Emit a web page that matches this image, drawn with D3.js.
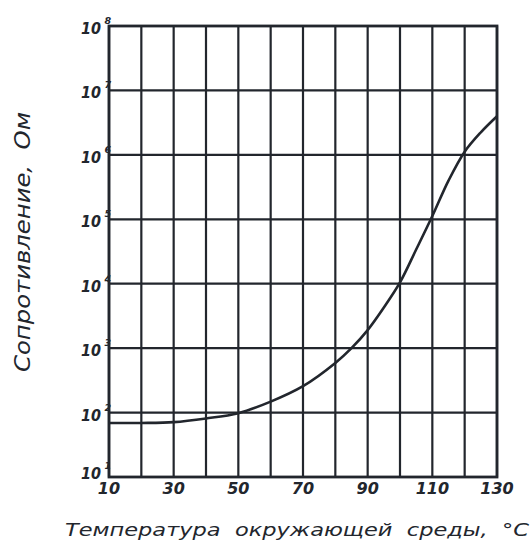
<!DOCTYPE html>
<html><head><meta charset="utf-8">
<script src="https://cdn.jsdelivr.net/npm/d3@7"></script>
<style>
html,body{margin:0;padding:0;background:#fff;}
svg{display:block;}
</style></head>
<body>
<svg id="c" width="531" height="547"></svg>
<script>
// Data
const temperatures = [10,20,30,40,50,60,70,80,85,90,95,100,105,110,115,120,125,130];
const resistance   = [69,69,71,81,98,148,257,589,1000,1905,4266,10470,33900,112200,398000,1120000,2240000,3980000];
const yDecades = [1,2,3,4,5,6,7,8];
const xGrid = d3.range(10, 131, 10);
const xTickLabels = [10,30,50,70,90,110,130];
const xTitle = "Температура  окружающей  среды,  °С";
const yTitle = "Сопротивление,  Ом";

const col = "#22262d";
const svg = d3.select("#c");
const L = 109, R = 497, T = 26, B = 477;
const x = d3.scaleLinear().domain([10,130]).range([L,R]);
const y = d3.scaleLog().domain([10,1e8]).range([B,T]);

// grid
const g = svg.append("g");
g.selectAll("line.v").data(xGrid).join("line")
  .attr("x1", d=>x(d)).attr("x2", d=>x(d)).attr("y1", T).attr("y2", B)
  .attr("stroke", col).attr("stroke-width", 2.2);
g.selectAll("line.h").data(yDecades).join("line")
  .attr("y1", d=>y(Math.pow(10,d))).attr("y2", d=>y(Math.pow(10,d))).attr("x1", L).attr("x2", R)
  .attr("stroke", col).attr("stroke-width", 2.2);
g.append("rect").attr("x", L).attr("y", T).attr("width", R-L).attr("height", B-T)
  .attr("fill","none").attr("stroke", col).attr("stroke-width", 2.8);

// curve
const pts = temperatures.map((t,i)=>[t,resistance[i]]);
svg.append("path").datum(pts)
  .attr("d", d3.line().x(d=>x(d[0])).y(d=>y(d[1])).curve(d3.curveCatmullRom.alpha(0.5)))
  .attr("fill","none").attr("stroke", col).attr("stroke-width", 2.6);

const font = "'DejaVu Sans', sans-serif";
// y tick labels
const yl = svg.append("g").attr("font-family", font).attr("font-weight","bold")
  .attr("font-style","italic").attr("fill", col);
yDecades.forEach(d=>{
  const yy = y(Math.pow(10,d));
  const off = d===1 ? 2 : 8;
  yl.append("text").attr("x", 101).attr("y", yy+off).attr("text-anchor","end")
    .attr("font-size", 16).attr("textLength", 20).attr("lengthAdjust","spacingAndGlyphs").text("10");
  yl.append("text").attr("x", 104.5).attr("y", yy+off-10).attr("font-size", 9.5).text(String(d));
});

// x tick labels
const xl = svg.append("g").attr("font-family", font).attr("font-weight","bold")
  .attr("font-style","italic").attr("fill", col).attr("font-size", 16);
xTickLabels.forEach(t=>{
  xl.append("text").attr("x", x(t)).attr("y", 493.5).attr("text-anchor","middle").text(String(t));
});

// axis titles
svg.append("text").attr("x", 65).attr("y", 535.5)
  .attr("font-family", font).attr("font-style","italic").attr("font-size", 17.5)
  .attr("fill", col).attr("textLength", 464).attr("lengthAdjust","spacingAndGlyphs")
  .style("white-space","pre").text(xTitle);
svg.append("text").attr("transform","translate(29.5,372) rotate(-90)")
  .attr("font-family", font).attr("font-style","italic").attr("font-size", 22)
  .attr("fill", col).attr("textLength", 260).attr("lengthAdjust","spacingAndGlyphs")
  .style("white-space","pre").text(yTitle);
</script>
</body></html>
